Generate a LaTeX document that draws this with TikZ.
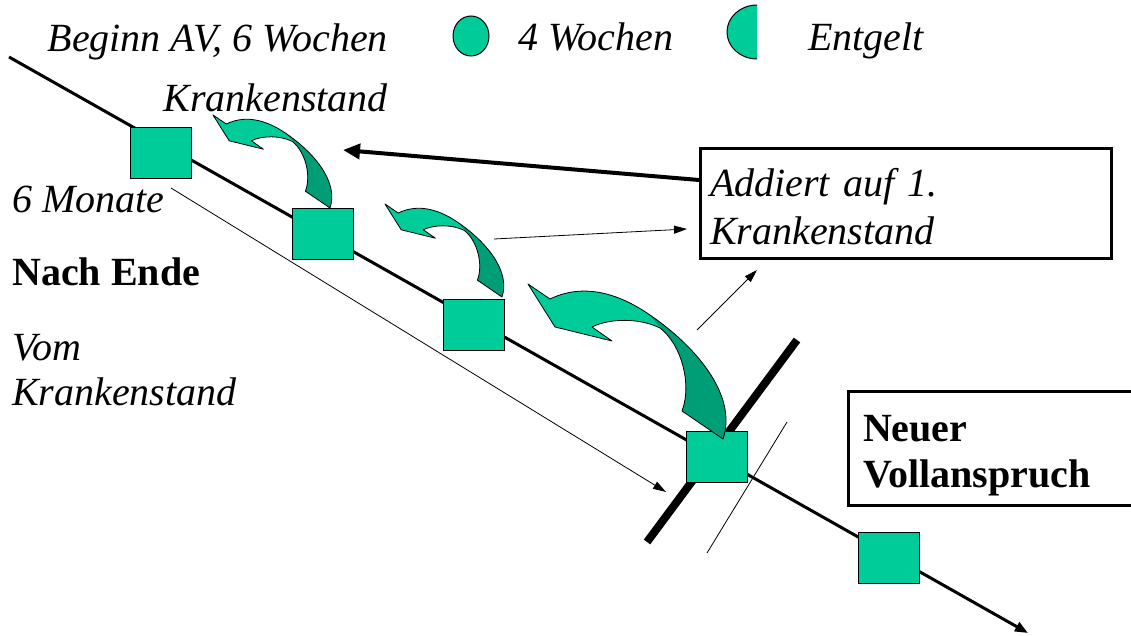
\documentclass[tikz,border=0pt]{standalone}
\usepackage{fontspec}
\setmainfont{Liberation Serif}
\usetikzlibrary{arrows.meta,shapes.geometric}

\definecolor{tealfill}{RGB}{0,204,153}
\definecolor{tealshade}{RGB}{0,158,118}

\tikzset{
  label text/.style={font=\fontsize{40}{48}\selectfont\itshape, inner sep=0pt},
  bold text/.style={font=\fontsize{40}{46}\selectfont\bfseries, inner sep=0pt},
  weekbox/.style={draw=black, line width=1pt, fill=tealfill,
    minimum width=61pt, minimum height=51pt, inner sep=0pt},
  timeline/.style={line width=3pt, -{Triangle[length=13pt,width=10pt]}},
  pointer/.style={line width=0.8pt, -{Triangle[length=13pt,width=8pt]}},
  heavy pointer/.style={line width=4pt, -{Triangle[length=17pt,width=15pt]}},
  framebox/.style={draw=black, line width=3pt, outer sep=0pt, align=left,
    anchor=north west},
  % curved "carry back" arrow, tip at the local origin, y pointing down
  bendarrow/.pic={
    \fill[tealshade] (119,29) .. controls (167,61) and (210,111) .. (195,155)
      -- (154,127) .. controls (164,101) and (154,61) .. (132,44) -- cycle;
    \fill[tealfill] (0,0) -- (22,15) .. controls (57,-2) and (92,11) .. (119,29)
      -- (132,44) .. controls (112,34) and (82,34) .. (64,43)
      -- (84,57) -- (27,43) -- cycle;
    \draw[line width=0.8pt, line join=round] (0,0) -- (22,15)
      .. controls (57,-2) and (92,11) .. (119,29)
      .. controls (167,61) and (210,111) .. (195,155)
      -- (154,127) .. controls (164,101) and (154,61) .. (132,44)
      .. controls (112,34) and (82,34) .. (64,43)
      -- (84,57) -- (27,43) -- cycle;
  }
}

\begin{document}
\begin{tikzpicture}[x=1pt,y=-1pt]
\useasboundingbox (0,0) rectangle (1131,636);
\clip (0,0) rectangle (1131,636);

% time axis
\coordinate (tstart) at (9,57);
\coordinate (tend) at (1028,633);
\draw[timeline] (tstart) -- (tend);

% six-month span
\coordinate (spanstart) at (171,188);
\coordinate (spanend) at (666,492);
\draw[pointer] (spanstart) -- (spanend);

% cut marks
\coordinate (barlow) at (647,542);
\coordinate (barhigh) at (797,340);
\draw[line width=8pt] (barlow) -- (barhigh);
\coordinate (cutlow) at (707,553);
\coordinate (cuthigh) at (787,422);
\draw[line width=0.8pt] (cutlow) -- (cuthigh);

% sick-leave blocks
\node[weekbox] (w1) at (161,153) {};
\node[weekbox] (w2) at (323,234) {};
\node[weekbox] (w3) at (473.5,325) {};
\node[weekbox] (w4) at (716.5,456.5) {};
\node[weekbox] (w5) at (888.5,557.5) {};

% carry-back arrows
\pic[scale=0.6] at (213,115) {bendarrow};
\pic[scale=0.6] at (385,204) {bendarrow};
\pic at (528,284) {bendarrow};

% pointers to the note
\coordinate (p2start) at (494,239);
\coordinate (p2end) at (687,229);
\draw[pointer] (p2start) -- (p2end);
\coordinate (p3start) at (697,330);
\coordinate (p3end) at (757,270);
\draw[pointer] (p3start) -- (p3end);
\coordinate (heavystart) at (699,180);
\coordinate (heavyend) at (343,150);
\draw[heavy pointer] (heavystart) -- (heavyend);

% note boxes (an invisible strut on the first line sets the text lower)
\node[framebox, label text, text width=391pt, inner xsep=10pt,
  minimum height=109pt] (addbox) at (700,149)
  {\rule{0pt}{34pt}Addiert auf 1.\\Krankenstand};
\node[framebox, bold text, text width=268pt, inner xsep=15pt,
  minimum height=114pt] (fullbox) at (848,391)
  {\rule{0pt}{42pt}Neuer\\Vollanspruch};

% legend
\node[ellipse, draw=black, line width=1pt, fill=tealfill, minimum width=36pt,
  minimum height=40pt, inner sep=0pt] (fourweeks) at (471,36) {};
\fill[tealfill] (757,5) .. controls (740.4,5) and (727,17.1) .. (727,32)
  .. controls (727,46.9) and (740.4,59) .. (757,59) -- cycle;
\draw[line width=1pt] (757,5) .. controls (740.4,5) and (727,17.1) .. (727,32)
  .. controls (727,46.9) and (740.4,59) .. (757,59);
\node[label text, anchor=base west] (lgweeks) at (518,51) {4 Wochen};
\node[label text, anchor=base west] (lgpay) at (808,51) {Entgelt};

% side texts (base anchor of a multi-line node sits on its last line)
\node[label text, anchor=base east, align=right,
  font=\fontsize{40}{60}\selectfont\itshape] (intro) at (388,112)
  {Beginn AV, 6 Wochen\\Krankenstand};
\node[label text, anchor=base west] (sixm) at (12,213) {6 Monate};
\node[bold text, anchor=base west] (after) at (12,285) {Nach Ende};
\node[label text, anchor=base west, align=left,
  font=\fontsize{40}{45}\selectfont\itshape] (fromsick) at (12,405)
  {Vom\\Krankenstand};
\end{tikzpicture}
\end{document}
